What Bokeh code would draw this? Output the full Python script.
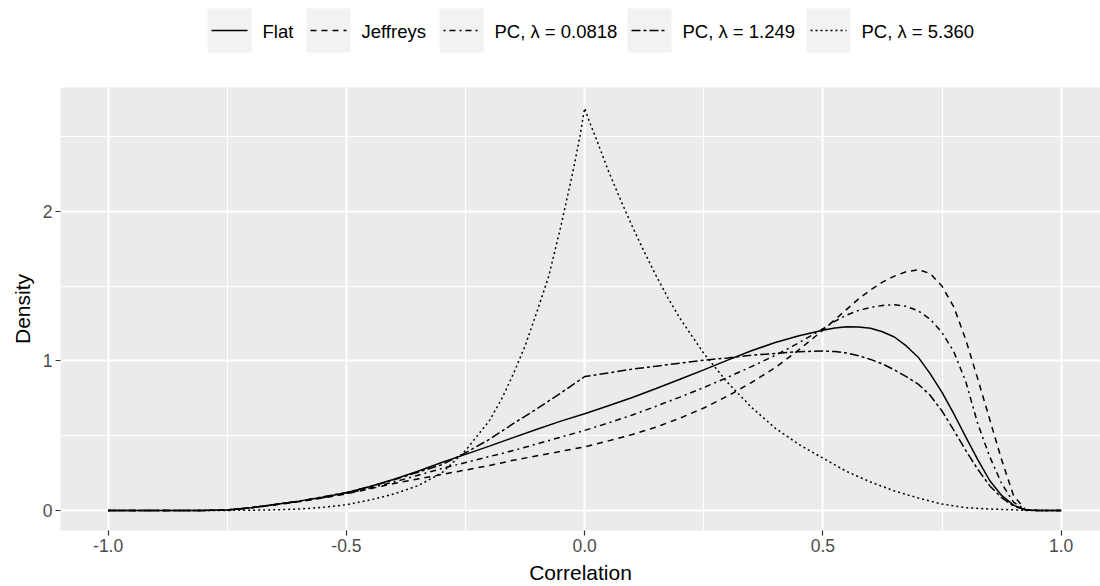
from bokeh.plotting import figure
from bokeh.models import Range1d, FixedTicker, PrintfTickFormatter
from bokeh.layouts import column
from bokeh.embed import file_html
from bokeh.resources import INLINE
from bokeh.core.properties import value

# ---- data -------------------------------------------------------------
series_names = ["Flat", "Jeffreys", "PC, \u03bb = 0.0818", "PC, \u03bb = 1.249", "PC, \u03bb = 5.360"]

corr = [-1.0, -0.8, -0.75, -0.7, -0.65, -0.6, -0.55, -0.5, -0.45, -0.4, -0.35, -0.3,
        -0.25, -0.2, -0.15, -0.1, -0.05, 0.0, 0.05, 0.1, 0.15, 0.2, 0.25, 0.3, 0.35,
        0.4, 0.45, 0.5, 0.525, 0.55, 0.575, 0.6, 0.625, 0.65, 0.675, 0.7, 0.725, 0.75,
        0.775, 0.8, 0.825, 0.85, 0.875, 0.9, 0.925, 0.95, 1.0]

dens_flat = [0, 0, 0.003, 0.018, 0.04, 0.062, 0.088, 0.118, 0.16, 0.208, 0.262, 0.32,
             0.375, 0.43, 0.487, 0.543, 0.597, 0.647, 0.70, 0.755, 0.815, 0.877, 0.94, 1.005,
             1.068, 1.123, 1.168, 1.205, 1.22, 1.228, 1.227, 1.218, 1.195, 1.16, 1.10,
             1.025, 0.915, 0.79, 0.645, 0.49, 0.34, 0.20, 0.10, 0.035, 0.003, 0, 0]

dens_jeffreys = [0, 0, 0.003, 0.017, 0.037, 0.058, 0.083, 0.11, 0.145, 0.18, 0.21, 0.24,
                 0.27, 0.30, 0.335, 0.365, 0.395, 0.425, 0.465, 0.508, 0.557, 0.617, 0.685,
                 0.765, 0.855, 0.955, 1.075, 1.205, 1.275, 1.345, 1.415, 1.475, 1.527, 1.567, 1.597,
                 1.61, 1.585, 1.50, 1.36, 1.14, 0.88, 0.61, 0.34, 0.10, 0.005, 0, 0]

dens_pc_00818 = [0, 0, 0.003, 0.017, 0.038, 0.06, 0.085, 0.113, 0.15, 0.19, 0.235, 0.28,
                 0.32, 0.36, 0.40, 0.445, 0.49, 0.535, 0.585, 0.638, 0.697, 0.758, 0.822,
                 0.89, 0.962, 1.037, 1.122, 1.215, 1.265, 1.307, 1.338, 1.358, 1.371, 1.376,
                 1.365, 1.335, 1.28, 1.19, 1.06, 0.86, 0.58, 0.36, 0.18, 0.055, 0.005, 0, 0]

dens_pc_1249 = [0, 0, 0.003, 0.018, 0.04, 0.062, 0.09, 0.12, 0.16, 0.205, 0.255, 0.305,
                0.385, 0.475, 0.58, 0.68, 0.785, 0.895, 0.92, 0.945, 0.965, 0.985, 1.005,
                1.02, 1.038, 1.05, 1.062, 1.066, 1.063, 1.053, 1.035, 1.01, 0.98, 0.94,
                0.895, 0.845, 0.77, 0.665, 0.535, 0.40, 0.275, 0.165, 0.085, 0.03, 0.003, 0, 0]

corr_pc_5360 = [-1.0, -0.75, -0.7, -0.65, -0.6, -0.55, -0.5, -0.45, -0.4, -0.35, -0.3,
                -0.25, -0.2, -0.175, -0.15, -0.125, -0.1, -0.075, -0.05, -0.025, -0.01,
                0.0, 0.01, 0.025, 0.05, 0.075, 0.1, 0.125, 0.15, 0.175, 0.2, 0.25, 0.3,
                0.35, 0.4, 0.45, 0.5, 0.55, 0.6, 0.65, 0.7, 0.75, 0.8, 0.85, 0.9, 0.925, 1.0]

dens_pc_5360 = [0, 0, 0.001, 0.004, 0.009, 0.02, 0.038, 0.07, 0.11, 0.165, 0.25, 0.40,
                0.60, 0.74, 0.91, 1.10, 1.33, 1.57, 1.90, 2.26, 2.50, 2.69, 2.60, 2.48,
                2.27, 2.08, 1.90, 1.73, 1.57, 1.42, 1.285, 1.05, 0.855, 0.69, 0.55, 0.44,
                0.35, 0.26, 0.19, 0.13, 0.083, 0.042, 0.018, 0.009, 0.004, 0, 0]

x_ticks = [-1.0, -0.5, 0.0, 0.5, 1.0]
x_minor = [-0.75, -0.25, 0.25, 0.75]
y_ticks = [0, 1, 2]
y_minor = [0.5, 1.5, 2.5]

# ---- styles -----------------------------------------------------------
FONT = "Liberation Sans"
dashes = ["solid", "6 5", "2 4 6 4", "9 3 3 3", "2 3"]
LW = 1.5

series = [
    (corr, dens_flat),
    (corr, dens_jeffreys),
    (corr, dens_pc_00818),
    (corr, dens_pc_1249),
    (corr_pc_5360, dens_pc_5360),
]

# ---- main panel -------------------------------------------------------
PANEL_LEFT = 60
p = figure(width=1100, height=524,
           x_range=Range1d(-1.1, 1.0826), y_range=Range1d(-0.1345, 2.829),
           output_backend="svg", toolbar_location=None,
           min_border_left=PANEL_LEFT, min_border_right=0,
           min_border_top=25, min_border_bottom=56)
p.background_fill_color = "#EBEBEB"
p.border_fill_color = "white"
p.outline_line_color = None

p.xaxis.ticker = FixedTicker(ticks=x_ticks, minor_ticks=x_minor)
p.yaxis.ticker = FixedTicker(ticks=y_ticks, minor_ticks=y_minor)
p.xaxis.formatter = PrintfTickFormatter(format="%.1f")
p.yaxis.formatter = PrintfTickFormatter(format="%d")

for ax in (p.xaxis[0], p.yaxis[0]):
    ax.axis_line_color = None
    ax.minor_tick_line_color = None
    ax.major_tick_in = 0
    ax.major_tick_out = 5
    ax.major_tick_line_color = "#333333"
    ax.major_tick_line_width = 1.2
    ax.major_label_text_color = "#4D4D4D"
    ax.major_label_text_font = FONT
    ax.major_label_text_font_size = "17.5px"
    ax.major_label_standoff = 3
    ax.axis_label_text_font = FONT
    ax.axis_label_text_font_size = "21px"
    ax.axis_label_text_font_style = "normal"
    ax.axis_label_text_color = "black"

p.xaxis.axis_label = "Correlation"
p.yaxis.axis_label = "Density"
p.xaxis.axis_label_standoff = 6
p.yaxis.axis_label_standoff = 6

for g in (p.xgrid[0], p.ygrid[0]):
    g.grid_line_color = "white"
    g.grid_line_width = 2
    g.minor_grid_line_color = "white"
    g.minor_grid_line_width = 1

for (xs, ys), dash in zip(series, dashes):
    p.line(x=xs, y=ys, line_color="black", line_width=LW, line_dash=dash)

# ---- legend strip above the panel ------------------------------------
# the strip's frame lines up with the panel's frame, so its x range starts
# at the panel's left edge and runs in pixels
key_left = [207, 306, 439, 627, 806]
key_size = 44
key_top = 8
key_mid = key_top + key_size / 2

leg = figure(width=1100, height=62, x_range=Range1d(PANEL_LEFT, 1100), y_range=Range1d(62, 0),
             output_backend="svg", toolbar_location=None, min_border=0,
             min_border_left=PANEL_LEFT, min_border_right=0,
             x_axis_location=None, y_axis_location=None)
leg.grid.visible = False
leg.outline_line_color = None
leg.background_fill_color = "white"
leg.border_fill_color = "white"

leg.quad(left=key_left, right=[k + key_size for k in key_left],
         top=[key_top] * len(key_left), bottom=[key_top + key_size] * len(key_left),
         fill_color="#F2F2F2", line_color=None)
for k, dash in zip(key_left, dashes):
    leg.line(x=[k + 4, k + key_size - 4], y=[key_mid, key_mid],
             line_color="black", line_width=LW, line_dash=dash)
leg.text(x=[k + key_size + 11 for k in key_left], y=[key_mid + 1] * len(key_left),
         text=series_names, text_font=value(FONT), text_font_size="18.5px",
         text_baseline="middle", text_align="left", text_color="black")

layout = column(leg, p, spacing=0)
open("out.html", "w").write(file_html(layout, INLINE))
